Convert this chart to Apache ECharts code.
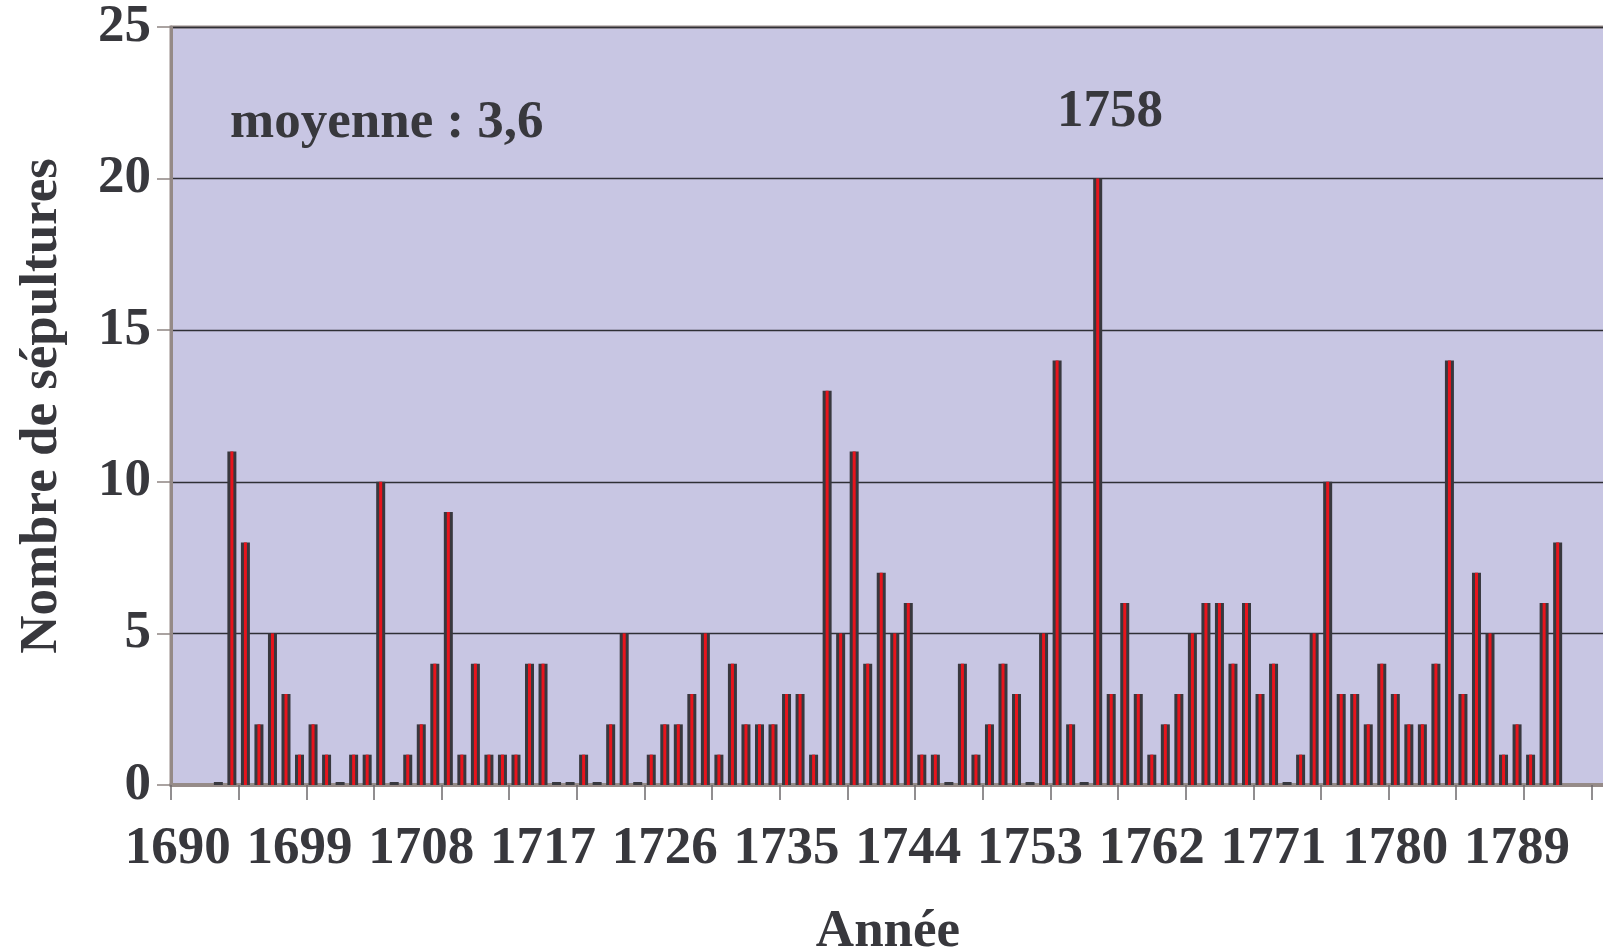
<!DOCTYPE html>
<html>
<head>
<meta charset="utf-8">
<script src="https://cdn.jsdelivr.net/npm/echarts@6/dist/echarts.min.js"></script>
<style>
  html, body { margin: 0; padding: 0; background: #fff; }
  #chart { width: 1603px; height: 950px; }
</style>
</head>
<body>
<div id="chart"></div>
<script>
// années 1690 -> 1795 (l'axe continue un peu après la dernière donnée)
var firstYear = 1690
var lastYear = 1795
var years = []
for (var y = firstYear; y <= lastYear; y++) {
  years.push(String(y))
}

// nombre de sépultures par année (null = pas de donnée)
var burials = [
  null, null, null, 0, 11, 8, 2, 5, 3, 1,      // 1690-1699
  2, 1, 0, 1, 1, 10, 0, 1, 2, 4,              // 1700-1709
  9, 1, 4, 1, 1, 1, 4, 4, 0, 0,               // 1710-1719
  1, 0, 2, 5, 0, 1, 2, 2, 3, 5,               // 1720-1729
  1, 4, 2, 2, 2, 3, 3, 1, 13, 5,              // 1730-1739
  11, 4, 7, 5, 6, 1, 1, 0, 4, 1,              // 1740-1749
  2, 4, 3, 0, 5, 14, 2, 0, 20, 3,             // 1750-1759
  6, 3, 1, 2, 3, 5, 6, 6, 4, 6,               // 1760-1769
  3, 4, 0, 1, 5, 10, 3, 3, 2, 4,              // 1770-1779
  3, 2, 2, 4, 14, 3, 7, 5, 1, 2,              // 1780-1789
  1, 6, 8, null, null, null                   // 1790-1795
]

var yTicks = [0, 5, 10, 15, 20, 25]

var txtColor = '#38383d'
var serif = '"Liberation Serif", "Times New Roman", serif'
var bigFont = {
  fontFamily: serif,
  fontWeight: 'bold',
  fontSize: 53,
  color: txtColor
}

var chart = echarts.init(document.getElementById('chart'))

var option = {
  backgroundColor: '#ffffff',
  animation: false,
  grid: {
    left: 171,
    top: 27,
    width: 1434,
    bottom: 165,
    outerBoundsMode: 'none',
    containLabel: false,
    show: true,
    backgroundColor: '#c8c6e3',
    borderColor: '#958a87',
    borderWidth: 3
  },
  xAxis: [
    {
      type: 'category',
      data: years,
      boundaryGap: true,
      name: 'Année',
      nameLocation: 'middle',
      nameGap: 121,
      nameTextStyle: bigFont,
      axisLine: {
        show: true,
        lineStyle: { color: '#968b88', width: 4 }
      },
      axisTick: {
        show: true,
        interval: 4,
        length: 15,
        lineStyle: { color: '#6e6a6c', width: 1.5 }
      },
      axisLabel: Object.assign({ interval: 8, margin: 38 }, bigFont),
      splitLine: { show: false }
    },
    {
      // axe jumeau invisible : sert seulement à centrer la bande rouge
      type: 'category',
      data: years,
      boundaryGap: true,
      position: 'bottom',
      show: false
    }
  ],
  yAxis: {
    type: 'value',
    min: yTicks[0],
    max: yTicks[yTicks.length - 1],
    interval: 5,
    name: 'Nombre de sépultures',
    nameLocation: 'middle',
    nameGap: 102,
    nameTextStyle: bigFont,
    axisLine: {
      show: true,
      lineStyle: { color: '#958a87', width: 3 }
    },
    axisTick: {
      show: true,
      length: 14,
      lineStyle: { color: '#8f8583', width: 1.5 }
    },
    axisLabel: Object.assign({ margin: 20 }, bigFont),
    splitLine: {
      show: true,
      lineStyle: { color: '#2f2f35', width: 1.3 }
    }
  },
  series: [
    {
      // contour sombre de la barre (les zéros restent visibles comme un petit trait)
      type: 'bar',
      xAxisIndex: 0,
      data: burials,
      barWidth: 9,
      barMinHeight: 3,
      itemStyle: { color: '#38383e' }
    },
    {
      // bande rouge au centre
      type: 'bar',
      xAxisIndex: 1,
      data: burials,
      barWidth: 3,
      z: 3,
      itemStyle: { color: '#e8141c' }
    }
  ],
  graphic: [
    {
      type: 'text',
      left: 230,
      top: 97,
      style: {
        text: 'moyenne : 3,6',
        font: 'bold 53px ' + serif,
        fill: txtColor
      }
    },
    {
      type: 'text',
      left: 1057,
      top: 86,
      style: {
        text: '1758',
        font: 'bold 53px ' + serif,
        fill: txtColor
      }
    }
  ]
}

chart.setOption(option)
</script>
</body>
</html>
